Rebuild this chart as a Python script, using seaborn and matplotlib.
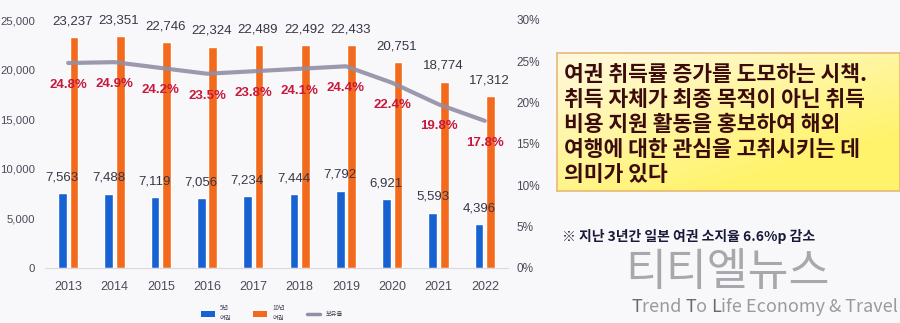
import numpy as np
import pandas as pd
import matplotlib
matplotlib.use("Agg")
import matplotlib.pyplot as plt
import seaborn as sns
from matplotlib.patches import Patch
from matplotlib.lines import Line2D

years = ["2013", "2014", "2015", "2016", "2017", "2018", "2019", "2020", "2021", "2022"]
five_year = [7563, 7488, 7119, 7056, 7234, 7444, 7792, 6921, 5593, 4396]
ten_year = [23237, 23351, 22746, 22324, 22489, 22492, 22433, 20751, 18774, 17312]
ratio = [24.8, 24.9, 24.2, 23.5, 23.8, 24.1, 24.4, 22.4, 19.8, 17.8]
series_names = ["5년\n여권", "10년\n여권"]
line_name = "보유율"
left_ticks = [0, 5000, 10000, 15000, 20000, 25000]
right_ticks = [0, 5, 10, 15, 20, 25, 30]
box_lines = ["여권 취득률 증가를 도모하는 시책.",
             "취득 자체가 최종 목적이 아닌 취득",
             "비용 지원 활동을 홍보하여 해외",
             "여행에 대한 관심을 고취시키는 데",
             "의미가 있다"]
note_text = "※ 지난 3년간 일본 여권 소지율 6.6%p 감소"
wm_title = "티티엘뉴스"
wm_sub = ["T", "rend ", "T", "o ", "L", "ife Economy & Travel"]

sns.set_theme(style="white")
plt.rcParams["font.family"] = ["Noto Sans CJK KR", "DejaVu Sans"]
NUMFONT = ["Liberation Sans", "DejaVu Sans"]

BLUE = "#1662d2"
ORANGE = "#f36a1c"
LINE = "#928ea6"
RED = "#c8183c"
TXT = "#363646"
TICK = "#4a4a5a"

df = pd.DataFrame({
    "year": years * 2,
    "value": five_year + ten_year,
    "type": [series_names[0]] * len(years) + [series_names[1]] * len(years),
})
df_line = pd.DataFrame({"year": years, "ratio": ratio})

fig = plt.figure(figsize=(9, 3.23), dpi=100)
fig.patch.set_facecolor("#f8f8fa")

ax = fig.add_axes([45 / 900, 55 / 323, 463 / 900, 248 / 323])
ax.set_facecolor("none")
sns.barplot(data=df, x="year", y="value", hue="type", order=years,
            hue_order=series_names, palette=[BLUE, ORANGE], width=0.5,
            gap=0.25, ax=ax, legend=False, saturation=1)
ax.set_xlim(-0.5, 9.5)
ax.set_ylim(0, 25000)
ax.set_yticks(left_ticks)
ax.set_yticklabels([f"{v:,}" for v in left_ticks], fontsize=8.2, color=TICK,
                   family=NUMFONT)
ax.tick_params(axis="y", pad=7, length=0)
ax.tick_params(axis="x", pad=9, length=0)
for lab in ax.get_xticklabels():
    lab.set_fontsize(9)
    lab.set_color(TICK)
    lab.set_family(NUMFONT)
ax.set_xlabel("")
ax.set_ylabel("")
for s in ["top", "right", "left"]:
    ax.spines[s].set_visible(False)
ax.spines["bottom"].set_color("#d8d8e0")
ax.spines["bottom"].set_linewidth(0.8)

# value labels
for i, (b, o) in enumerate(zip(five_year, ten_year)):
    ax.text(i - 0.13, b + 1600, f"{b:,}", ha="center", va="center",
            fontsize=9.5, color=TXT, family=NUMFONT)
    ax.text(i + 0.1, o + 1600, f"{o:,}", ha="center", va="center",
            fontsize=9.5, color=TXT, family=NUMFONT)

ax2 = ax.twinx()
sns.lineplot(data=df_line, x="year", y="ratio", ax=ax2, color=LINE,
             linewidth=3, alpha=0.9, sort=False)
ax2.set_ylim(0, 30)
ax2.set_xlim(-0.5, 9.5)
ax2.set_yticks(right_ticks)
ax2.set_yticklabels([f"{v}%" for v in right_ticks], fontsize=8.5, color=TICK,
                    family=NUMFONT)
ax2.tick_params(axis="y", pad=6, length=0)
ax2.set_ylabel("")
for s in ["top", "right", "left", "bottom"]:
    ax2.spines[s].set_visible(False)
for i, r in enumerate(ratio):
    ax2.text(i, r - 2.65, f"{r}%", ha="center", va="center", fontsize=9.5,
             color=RED, fontweight="bold", family=NUMFONT)

# legend
handles = [Patch(facecolor=BLUE, edgecolor="none"),
           Patch(facecolor=ORANGE, edgecolor="none"),
           Line2D([0], [0], color=LINE, linewidth=2.5)]
fig.legend(handles, series_names + [line_name], loc="center",
           bbox_to_anchor=(272 / 900, 1 - 313 / 323), ncol=3, frameon=False,
           fontsize=4.5, handlelength=2.2, handleheight=1.0, columnspacing=3.5,
           labelcolor="#404050")

# yellow box with gradient
bx = fig.add_axes([557 / 900, 1 - 191 / 323, 343 / 900, 138 / 323])
gx = np.linspace(0, 1, 200)
gy = np.linspace(0, 1, 100)
GX, GY = np.meshgrid(gx, gy)
t = np.clip(0.55 * GX + 0.75 * GY, 0, 1)
c0 = np.array([1.0, 0.975, 0.88])
c1 = np.array([1.0, 0.955, 0.42])
img = c0[None, None, :] * (1 - t[..., None]) + c1[None, None, :] * t[..., None]
bx.imshow(img, aspect="auto", extent=[0, 1, 0, 1], origin="upper")
bx.set_xlim(0, 1)
bx.set_ylim(0, 1)
bx.set_xticks([])
bx.set_yticks([])
for s in bx.spines.values():
    s.set_color("#e8b878")
    s.set_linewidth(1.2)
for k, line in enumerate(box_lines):
    y = 1 - (74 + k * 25.2 - 53) / 138
    bx.text(7 / 343, y, line, ha="left", va="center", fontsize=15.5,
            fontweight="bold", color="#3c0c0c")

fig.text(562 / 900, 1 - 237 / 323, note_text, ha="left", va="center",
         fontsize=10, fontweight="bold", color="#1a1a3a")
fig.text(625 / 900, 1 - 272 / 323, wm_title, ha="left", va="center",
         fontsize=32, color="#a0a0a4", alpha=0.9)

# subtitle with darker initials
x0 = 631 / 900
renderer = fig.canvas.get_renderer()
for k, part in enumerate(wm_sub):
    col = "#6a6a70" if k % 2 == 0 else "#9a9a9e"
    tt = fig.text(x0, 1 - 307 / 323, part, ha="left", va="center",
                  fontsize=13, color=col)
    bb = tt.get_window_extent(renderer=renderer)
    x0 += bb.width / fig.bbox.width

fig.savefig("out.png", dpi=100, facecolor=fig.get_facecolor())
